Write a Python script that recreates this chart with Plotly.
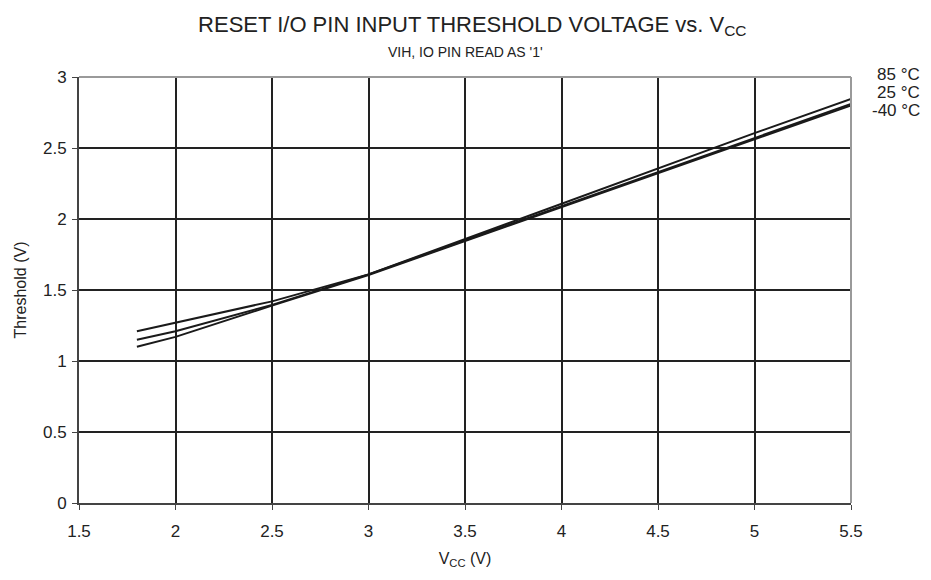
import plotly.graph_objects as go

# Vcc sweep and thresholds
vcc = [1.8, 2.0, 2.5, 3.0, 3.5, 4.0, 4.5, 5.0, 5.5]
th_85 = [1.21, 1.27, 1.42, 1.61, 1.86, 2.11, 2.355, 2.605, 2.845]
th_25 = [1.15, 1.21, 1.395, 1.61, 1.85, 2.09, 2.33, 2.57, 2.81]
th_m40 = [1.10, 1.17, 1.39, 1.605, 1.845, 2.085, 2.32, 2.565, 2.80]
temps = ["85 °C", "25 °C", "-40 °C"]
x_ticks = [1.5, 2, 2.5, 3, 3.5, 4, 4.5, 5, 5.5]
y_ticks = [0, 0.5, 1, 1.5, 2, 2.5, 3]

fig = go.Figure()
for ys, name in zip([th_85, th_25, th_m40], temps):
    fig.add_trace(go.Scatter(x=vcc, y=ys, mode="lines", name=name,
                             line=dict(color="#1a1a1a", width=2),
                             showlegend=False))

# temperature labels at upper right
for i, t in enumerate(temps):
    fig.add_annotation(text=t, xref="paper", yref="paper", x=1.0916, y=1.007 - i * 0.0423,
                       xanchor="right", yanchor="middle", showarrow=False,
                       font=dict(size=17, color="#222"))

fig.add_annotation(text="VIH, IO PIN READ AS '1'", xref="paper", yref="paper",
                   x=0.5, y=1.0587, xanchor="center", yanchor="middle",
                   showarrow=False, font=dict(size=14, color="#222"))

# light gray top and right border
fig.add_shape(type="line", xref="paper", yref="paper", x0=0, x1=1, y0=1, y1=1,
              line=dict(color="#9a9a9a", width=2))
fig.add_shape(type="line", xref="paper", yref="paper", x0=1, x1=1, y0=0, y1=1,
              line=dict(color="#9a9a9a", width=2))

# page has an 8px body margin, so the figure is sized/offset to compensate
fig.update_layout(
    width=923, height=572,
    margin=dict(l=71, r=80, t=69, b=77),
    plot_bgcolor="white", paper_bgcolor="white",
    font=dict(family="Liberation Sans, Arial, sans-serif", size=17, color="#222"),
    title=dict(text="RESET I/O PIN INPUT THRESHOLD VOLTAGE vs. V<sub>CC</sub>",
               x=0.503, xanchor="center", y=1 - 16 / 572, yanchor="middle",
               font=dict(size=22, color="#222")),
    xaxis=dict(range=[1.5, 5.5], tickvals=x_ticks,
               ticktext=[f"{v:g}" for v in x_ticks],
               showgrid=True, gridcolor="#222", gridwidth=2, zeroline=False,
               showline=True, linecolor="#444", linewidth=2,
               ticks="outside", ticklen=5, tickcolor="#444", ticklabelstandoff=7,
               title=dict(text="V<sub>CC</sub> (V)", font=dict(size=16, color="#222"),
                          standoff=12)),
    yaxis=dict(range=[0, 3], tickvals=y_ticks,
               ticktext=[f"{v:g}" for v in y_ticks],
               showgrid=True, gridcolor="#222", gridwidth=2, zeroline=False,
               showline=True, linecolor="#444", linewidth=2,
               ticks="outside", ticklen=5, tickcolor="#444", ticklabelstandoff=2,
               title=dict(text="Threshold (V)", font=dict(size=16, color="#222"),
                          standoff=12)),
)

fig.write_html("out.html")
